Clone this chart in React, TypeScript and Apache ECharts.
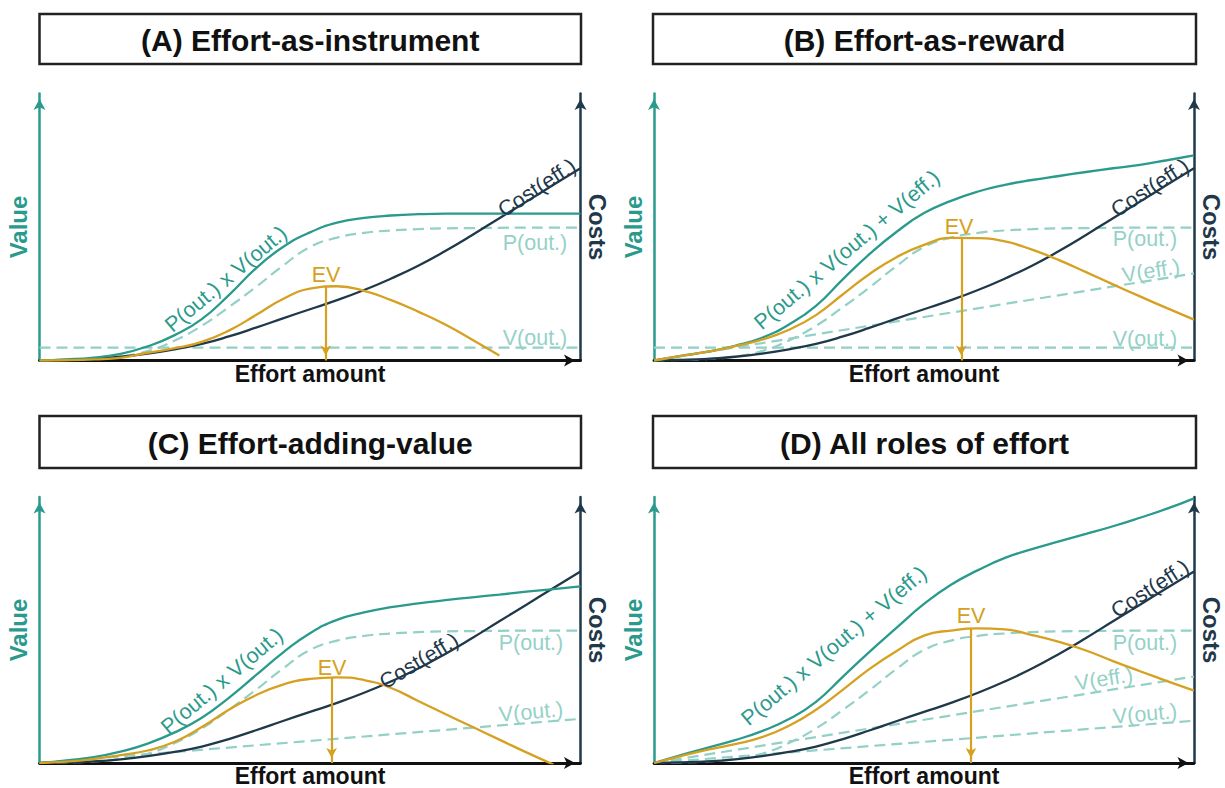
import React, { useEffect, useRef } from 'react';
import * as echarts from 'echarts';

// Effort amount sampled 0..100 (shared x positions)
const X = [0, 5, 10, 15, 20, 25, 30, 35, 40, 45, 50, 55, 60, 65, 70, 75, 80, 85, 90, 95, 100];
const LINE_X = [0, 100];

// Shared curves
const pOut = [0, 0.2, 0.6, 1.5, 3.5, 7.5, 13, 20, 27.5, 35.5, 42.5, 46, 47.8, 48.7, 49.2, 49.5, 49.6, 49.7, 49.8, 49.8, 49.8];
const costEff = [0, 0.2, 0.6, 1.4, 2.6, 4.2, 6.2, 9, 12.3, 15.8, 19.2, 22.6, 26.4, 30.7, 35.5, 41, 47, 53.3, 59.5, 65.8, 72];

// (A) Effort-as-instrument
const totalA = [0, 0.4, 1.1, 2.5, 5.3, 9.5, 15.5, 24.5, 34.5, 42.5, 48, 51.6, 53.4, 54.3, 54.8, 55, 55, 55, 55, 55, 55];
const evA = [0, 0.1, 0.4, 1.0, 2.9, 4.6, 7.0, 11.2, 17.0, 23.0, 26.9, 27.8, 26.1, 22.6, 18.3, 13.5, 7.8, 1.9, null, null, null];
const vOutA = [4.8, 4.8];
const evPeakA = [52.9, 27.9];

// (B) Effort-as-reward
const totalB = [0, 1.7, 3.3, 5.5, 8.5, 13.5, 20.5, 30.5, 40, 48.3, 55.2, 59.8, 63.3, 65.8, 67.6, 69.1, 70.6, 72, 73.3, 75, 76.8];
const evB = [0, 1.7, 3.3, 5.4, 7.8, 11.5, 17, 24.8, 32.5, 38.8, 43.3, 45.9, 45.8, 44.6, 41.5, 37.6, 33.1, 28.5, 24, 19.6, 15.3];
const vEffB = [0, 32.6];
const vOutB = [4.8, 4.8];
const evPeakB = [56.9, 46.2];

// (C) Effort-adding-value
const totalC = [0, 1, 2.2, 4.3, 7.3, 11.5, 17, 24.5, 33, 41.5, 48.8, 53.8, 56.6, 58.6, 60, 61.2, 62.3, 63.3, 64.4, 65.4, 66.4];
const evC = [0, 0.5, 1.5, 3, 4.7, 8, 13.5, 20, 25.5, 29.5, 31.6, 32.2, 31.2, 28.2, 23.3, 18.4, 13.6, 8.8, 4, -0.6, null];
const vOutC = [0, 16.6];
const evPeakC = [54, 32.2];

// (D) All roles of effort
const totalD = [0, 3, 5.8, 8.6, 12, 16.5, 23, 32.5, 42, 51, 59.8, 67, 72.5, 77.1, 80.4, 83.3, 86.1, 89, 92.2, 95.6, 99.5];
const evD = [0, 2.6, 5, 7.1, 9.7, 14, 20, 27.6, 35.5, 42.2, 47.9, 49.8, 50.6, 50.2, 48.1, 45.5, 42.3, 38.3, 34.5, 30.8, 27.2];
const vEffD = [0, 32.5];
const vOutD = [0, 15.9];
const evPeakD = [58.7, 50.7];

const TITLES = ['(A) Effort-as-instrument', '(B) Effort-as-reward', '(C) Effort-adding-value', '(D) All roles of effort'];

const TEAL = '#2a9a8c';
const NAVY = '#1f384a';
const GOLD = '#d6a020';
const DASH = '#93d0c6';
const LIGHT = '#95d1c7';
const FONT = '"Liberation Sans", Arial, sans-serif';

const zip = (xs: number[], ys: (number | null)[]) =>
  xs.map((x, i) => (ys[i] == null ? null : [x, ys[i] as number])).filter((p) => p !== null);

type Panel = {
  grid: { left: number; top: number; width: number; height: number };
  box: { x: number; y: number; w: number; h: number };
  total: number[];
  ev: (number | null)[];
  peak: number[];
  dashed: { xs: number[]; ys: number[] }[];
  labels: { text: string; x: number; y: number; rot: number; color: string }[];
};

const panels: Panel[] = [
  {
    grid: { left: 39.5, top: 93.5, width: 541, height: 267 },
    box: { x: 39.5, y: 14, w: 541.5, h: 50 },
    total: totalA, ev: evA, peak: evPeakA,
    dashed: [{ xs: X, ys: pOut }, { xs: LINE_X, ys: vOutA }],
    labels: [
      { text: 'P(out.) x V(out.)', x: 226, y: 279, rot: 40, color: TEAL },
      { text: 'EV', x: 326, y: 275, rot: 0, color: GOLD },
      { text: 'Cost(eff.)', x: 537, y: 188, rot: 33, color: NAVY },
      { text: 'P(out.)', x: 535, y: 243, rot: 0, color: LIGHT },
      { text: 'V(out.)', x: 535, y: 338, rot: 0, color: LIGHT },
    ],
  },
  {
    grid: { left: 654, top: 93.5, width: 540, height: 267 },
    box: { x: 653, y: 14, w: 543, h: 50 },
    total: totalB, ev: evB, peak: evPeakB,
    dashed: [{ xs: X, ys: pOut }, { xs: LINE_X, ys: vEffB }, { xs: LINE_X, ys: vOutB }],
    labels: [
      { text: 'P(out.) x V(out.) + V(eff.)', x: 847, y: 250, rot: 40, color: TEAL },
      { text: 'EV', x: 959, y: 227, rot: 0, color: GOLD },
      { text: 'Cost(eff.)', x: 1150, y: 188, rot: 33, color: NAVY },
      { text: 'P(out.)', x: 1145, y: 239, rot: 0, color: LIGHT },
      { text: 'V(eff.)', x: 1151, y: 271, rot: 9, color: LIGHT },
      { text: 'V(out.)', x: 1145, y: 339, rot: 0, color: LIGHT },
    ],
  },
  {
    grid: { left: 39.5, top: 497, width: 541, height: 266 },
    box: { x: 39.5, y: 416, w: 541.5, h: 52 },
    total: totalC, ev: evC, peak: evPeakC,
    dashed: [{ xs: X, ys: pOut }, { xs: LINE_X, ys: vOutC }],
    labels: [
      { text: 'P(out.) x V(out.)', x: 222, y: 681, rot: 40, color: TEAL },
      { text: 'EV', x: 332, y: 668, rot: 0, color: GOLD },
      { text: 'Cost(eff.)', x: 419, y: 661, rot: 31, color: NAVY },
      { text: 'P(out.)', x: 531, y: 643, rot: 0, color: LIGHT },
      { text: 'V(out.)', x: 531, y: 712, rot: 5, color: LIGHT },
    ],
  },
  {
    grid: { left: 654, top: 497, width: 540, height: 266 },
    box: { x: 653, y: 416, w: 543, h: 52 },
    total: totalD, ev: evD, peak: evPeakD,
    dashed: [{ xs: X, ys: pOut }, { xs: LINE_X, ys: vEffD }, { xs: LINE_X, ys: vOutD }],
    labels: [
      { text: 'P(out.) x V(out.) + V(eff.)', x: 834, y: 646, rot: 40, color: TEAL },
      { text: 'EV', x: 971, y: 616, rot: 0, color: GOLD },
      { text: 'Cost(eff.)', x: 1150, y: 589, rot: 33, color: NAVY },
      { text: 'P(out.)', x: 1145, y: 643, rot: 0, color: LIGHT },
      { text: 'V(eff.)', x: 1104, y: 679, rot: 9, color: LIGHT },
      { text: 'V(out.)', x: 1145, y: 714, rot: 5, color: LIGHT },
    ],
  },
];

function buildOption() {
  const grid: any[] = [];
  const xAxis: any[] = [];
  const yAxis: any[] = [];
  const series: any[] = [];
  const graphic: any[] = [];

  const txt = (text: string, x: number, y: number, rotDeg: number, color: string, size: number, bold: boolean) => ({
    type: 'text',
    x,
    y,
    rotation: (rotDeg * Math.PI) / 180,
    silent: true,
    z: 100,
    style: {
      text,
      fill: color,
      fontSize: size,
      fontWeight: bold ? 'bold' : 'normal',
      fontFamily: FONT,
      align: 'center',
      verticalAlign: 'middle',
      textAlign: 'center',
      textVerticalAlign: 'middle',
    },
  });

  panels.forEach((p, i) => {
    grid.push({ left: p.grid.left, top: p.grid.top, width: p.grid.width, height: p.grid.height, containLabel: false });
    xAxis.push({
      type: 'value', gridIndex: i, min: 0, max: 100,
      axisLine: { show: true, onZero: false, lineStyle: { color: '#111', width: 2.8 }, symbol: ['none', 'arrow'], symbolSize: [9, 11], symbolOffset: [0, -5.5] },
      axisTick: { show: false }, axisLabel: { show: false }, splitLine: { show: false },
    });
    yAxis.push({
      type: 'value', gridIndex: i, min: 0, max: 100, position: 'left',
      axisLine: { show: true, onZero: false, lineStyle: { color: TEAL, width: 2.5 }, symbol: ['none', 'arrow'], symbolSize: [9, 11], symbolOffset: [0, -5.5] },
      axisTick: { show: false }, axisLabel: { show: false }, splitLine: { show: false },
    });
    yAxis.push({
      type: 'value', gridIndex: i, min: 0, max: 100, position: 'right',
      axisLine: { show: true, onZero: false, lineStyle: { color: NAVY, width: 2.5 }, symbol: ['none', 'arrow'], symbolSize: [9, 11], symbolOffset: [0, -5.5] },
      axisTick: { show: false }, axisLabel: { show: false }, splitLine: { show: false },
    });

    const base = { type: 'line', xAxisIndex: i, yAxisIndex: 2 * i, showSymbol: false, symbol: 'none', silent: true, clip: true };
    p.dashed.forEach((d, k) => {
      series.push({
        ...base, name: `dashed-${i}-${k}`, smooth: d.xs.length > 2 ? 0.5 : false, z: 2,
        data: zip(d.xs, d.ys),
        lineStyle: { color: DASH, width: 2.2, type: [11, 6] },
      });
    });
    series.push({ ...base, name: `cost-${i}`, smooth: 0.5, z: 3, data: zip(X, costEff), lineStyle: { color: NAVY, width: 2.3 } });
    series.push({ ...base, name: `total-${i}`, smooth: 0.5, z: 4, data: zip(X, p.total), lineStyle: { color: TEAL, width: 2.3 } });
    series.push({
      ...base, name: `ev-${i}`, smooth: 0.5, z: 5, data: zip(X, p.ev), lineStyle: { color: GOLD, width: 2.3 },
      markLine: {
        silent: true,
        animation: false,
        symbol: ['none', 'arrow'],
        symbolSize: [8, 10],
        symbolOffset: [0, [0, 5]],
        label: { show: false },
        lineStyle: { color: GOLD, width: 2.2, type: 'solid' },
        data: [[{ coord: [p.peak[0], p.peak[1]] }, { coord: [p.peak[0], 0] }]],
      },
    });

    // title box
    graphic.push({
      type: 'rect', silent: true, z: 50,
      shape: { x: p.box.x, y: p.box.y, width: p.box.w, height: p.box.h },
      style: { fill: '#fff', stroke: '#222', lineWidth: 2.5 },
    });
    graphic.push(txt(TITLES[i], p.box.x + p.box.w / 2, p.box.y + p.box.h / 2 + 1, 0, '#111', 30, true));

    // axis names
    const g = p.grid;
    const midY = g.top + g.height / 2;
    graphic.push(txt('Value', g.left - 21, midY, 90, TEAL, 24, true));
    graphic.push(txt('Costs', g.left + g.width + 17, midY, -90, NAVY, 24, true));
    graphic.push(txt('Effort amount', g.left + g.width / 2, g.top + g.height + 13, 0, '#111', 23, true));

    p.labels.forEach((l) => graphic.push(txt(l.text, l.x, l.y, l.rot, l.color, 21.5, false)));
  });

  return {
    animation: false,
    backgroundColor: '#ffffff',
    grid,
    xAxis,
    yAxis,
    series,
    graphic: { elements: graphic },
  };
}

export default function App() {
  const ref = useRef<HTMLDivElement>(null);
  useEffect(() => {
    if (!ref.current) return;
    const chart = echarts.init(ref.current, null, { renderer: 'svg' });
    chart.setOption(buildOption() as any);
    return () => chart.dispose();
  }, []);
  return (
    <div
      ref={ref}
      style={{ position: 'fixed', left: 0, top: 0, width: 1225, height: 788, background: '#fff' }}
    />
  );
}
